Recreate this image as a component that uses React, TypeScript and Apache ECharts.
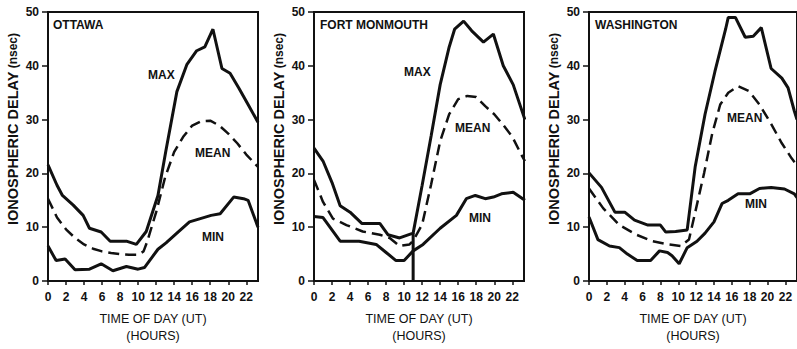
import React, { useEffect, useRef } from "react";
import * as echarts from "echarts";

type P = [number, number];

// Ottawa (hour, nsec)
const ottawaMax: P[] = [[0,21.6],[1,17.8],[1.6,15.9],[2.8,14.1],[3.9,12.2],[4.6,9.8],[5.9,9.1],[6.9,7.4],[8.7,7.4],[9.8,6.8],[10.9,9.2],[12.2,15.9],[13.1,24.4],[14.3,35.2],[15.4,40.2],[16.5,42.8],[17.4,43.5],[18.3,46.8],[19.3,39.5],[20.2,38.6],[21.2,35.8],[22.2,32.8],[23.3,29.5]];
const ottawaMean: P[] = [[0,15.3],[1,11.8],[2,9.6],[3,8],[4,6.8],[5,6],[6,5.5],[7,5.2],[8,5],[9,4.9],[10,4.9],[10.6,5.5],[11,7.3],[12,12.8],[13,19.3],[14,24],[15,26.8],[16,28.9],[17,29.7],[18,29.8],[19,28.9],[20,27.4],[21,25.6],[22,23.5],[23.3,21.2]];
const ottawaMin: P[] = [[0,6.5],[0.9,3.8],[1.9,4.1],[3,2.1],[4.6,2.2],[5.9,3.2],[7.2,1.9],[8.7,2.7],[10,2.2],[10.7,2.5],[12.2,5.9],[13.1,7.1],[14.3,8.9],[15.7,11],[18.1,12.2],[19.1,12.5],[20.6,15.6],[21.7,15.3],[22.2,15],[23.3,10]];

// Fort Monmouth
const fortMax: P[] = [[0,24.7],[1,22.3],[2,18.3],[2.9,14],[4,12.8],[5.3,10.7],[7.3,10.7],[8.2,8.6],[9.5,8],[11,8.9],[12,17.8],[13,27],[14,36.5],[15,43.5],[15.6,46.8],[16.6,48.3],[17.5,46.5],[18.8,44.4],[19.9,45.9],[21,40],[22.1,36.5],[23.4,30]];
const fortMean: P[] = [[0,18.8],[1,14.7],[2.1,11.6],[3.6,10.4],[5.4,9.2],[7.3,8.6],[8.4,8],[9.5,6.5],[10.6,6.8],[11,7.5],[12,10.5],[13,18],[14,26],[15,31],[16,33.8],[17,34.4],[18,34.2],[19,32.5],[20,31],[21,29],[22,26.8],[23,23.5],[23.4,22.3]];
const fortMin: P[] = [[0,12],[1,11.8],[2.9,7.4],[5,7.4],[6.9,6.8],[8,5.3],[9.1,3.8],[10,3.8],[11,5.6],[12.1,6.8],[14,9.8],[15.8,12.2],[16.9,15.3],[17.9,15.9],[19,15.3],[19.9,15.6],[20.8,16.2],[22.1,16.5],[23.4,15]];
const fortGap: P[] = [[11,0],[11,8.9]];

// Washington
const washMax: P[] = [[0,20.1],[1.4,17.4],[2.9,12.8],[4,12.8],[5.1,11.3],[6.6,10.4],[8,10.4],[8.6,9.1],[9.7,9.2],[11,9.5],[11.9,21.3],[13,31],[14.1,38.9],[15.3,46.8],[15.6,49],[16.4,49],[17.5,45.3],[18.4,45.5],[19.3,47.1],[20.4,39.5],[21.6,37.7],[22.3,35.9],[23,31.6],[23.3,30]];
const washMean: P[] = [[0,17.2],[1.6,13.5],[3.4,10.4],[5.3,8.6],[7.1,7.4],[8.9,6.8],[10.3,6.5],[11.2,7.7],[11.9,12.8],[12.9,20.1],[13.8,27.4],[14.7,32.8],[15.6,35],[16.7,36.2],[17.9,35.3],[19.1,32.8],[20.4,29.2],[21.6,25.6],[22.7,22.8],[23.3,21.5]];
const washMin: P[] = [[0,11.9],[1,7.7],[2.3,6.5],[3.4,6.2],[4.3,5],[5.4,3.8],[6.9,3.8],[7.9,5.6],[8.8,5.3],[9.3,4.7],[10.1,3.2],[11,6.2],[12.1,7.4],[13,8.9],[14,11],[14.9,14.4],[15.6,15],[16.7,16.2],[18,16.2],[19.1,17.2],[20.4,17.4],[21.9,17.1],[23,16.2],[23.3,15.5]];

const stations = ["OTTAWA", "FORT MONMOUTH", "WASHINGTON"];
const yTicks = { min: 0, max: 50, interval: 10 };
const xTicks = { min: 0, max: 23.3, interval: 2 };

const FONT = "Liberation Sans, Arial, sans-serif";
const INK = "#111";

export default function App() {
  const ref = useRef<HTMLDivElement>(null);
  useEffect(() => {
    if (!ref.current) return;
    const chart = echarts.init(ref.current, undefined, { renderer: "svg" });
    const lefts = [48, 314, 589];
    const grids = lefts.map((l) => ({
      left: l, top: 12, width: 210, height: 275, show: true,
      borderColor: INK, borderWidth: 2, backgroundColor: "transparent",
    }));
    const xAxes = lefts.map((_, i) => ({
      type: "value", gridIndex: i, min: xTicks.min, max: xTicks.max, interval: xTicks.interval,
      axisLine: { show: true, lineStyle: { color: INK, width: 2 } },
      axisTick: { show: true, inside: false, length: 4, lineStyle: { color: INK, width: 1.5 } },
      axisLabel: { color: INK, fontSize: 12, fontWeight: "bold", fontFamily: FONT, margin: 10, showMaxLabel: false },
      splitLine: { show: false },
      name: "TIME OF DAY (UT)\n(HOURS)", nameLocation: "middle", nameGap: 29,
      nameTextStyle: { color: INK, fontSize: 12.5, fontFamily: FONT, lineHeight: 17 },
    }));
    const yAxes = lefts.map((_, i) => ({
      type: "value", gridIndex: i, min: yTicks.min, max: yTicks.max, interval: yTicks.interval,
      axisLine: { show: true, lineStyle: { color: INK, width: 2 } },
      axisTick: { show: true, inside: false, length: 6, lineStyle: { color: INK, width: 1.5 } },
      axisLabel: { color: INK, fontSize: 12, fontWeight: "bold", fontFamily: FONT, margin: 9 },
      splitLine: { show: false },
    }));
    const solid = (data: P[], i: number) => ({
      type: "line", xAxisIndex: i, yAxisIndex: i, data, showSymbol: false, symbol: "none",
      lineStyle: { color: INK, width: 3 }, silent: true,
    });
    const dashed = (data: P[], i: number) => ({
      type: "line", xAxisIndex: i, yAxisIndex: i, data, showSymbol: false, symbol: "none",
      lineStyle: { color: INK, width: 2.5, type: [11, 6] }, silent: true,
    });
    const series = [
      solid(ottawaMax, 0), dashed(ottawaMean, 0), solid(ottawaMin, 0),
      solid(fortMax, 1), dashed(fortMean, 1), solid(fortMin, 1), solid(fortGap, 1),
      solid(washMax, 2), dashed(washMean, 2), solid(washMin, 2),
    ];
    const txt = (text: string, x: number, y: number) => ({
      type: "text", x, y, silent: true,
      style: { text, fill: INK, fontSize: 12, fontWeight: "bold", fontFamily: FONT, align: "left", verticalAlign: "middle" },
    });
    const yName = (x: number) => ({
      type: "text", x, y: 129, rotation: Math.PI / 2, silent: true,
      style: {
        text: "{a|IONOSPHERIC DELAY} {b|(nsec)}", fill: INK, align: "center", verticalAlign: "middle",
        rich: {
          a: { fontSize: 14.5, fontWeight: "bold", fontFamily: FONT, fill: INK },
          b: { fontSize: 12, fontWeight: "bold", fontFamily: FONT, fill: INK },
        },
      },
    });
    const graphic = [
      txt(stations[0], 53, 25), txt("MAX", 148, 75), txt("MEAN", 195, 153), txt("MIN", 202, 237),
      txt(stations[1], 320, 25), txt("MAX", 404, 72), txt("MEAN", 455, 128), txt("MIN", 469, 218),
      txt(stations[2], 595, 25), txt("MEAN", 727, 118), txt("MIN", 745, 204),
      yName(13), yName(279), yName(554),
    ];
    chart.setOption({
      animation: false,
      backgroundColor: "#fff",
      grid: grids, xAxis: xAxes, yAxis: yAxes, series, graphic,
    });
    return () => chart.dispose();
  }, []);
  return (
    <div style={{ position: "fixed", left: 0, top: 0, width: 797, height: 349, background: "#fff" }}>
      <div ref={ref} style={{ width: 797, height: 349 }} />
    </div>
  );
}
